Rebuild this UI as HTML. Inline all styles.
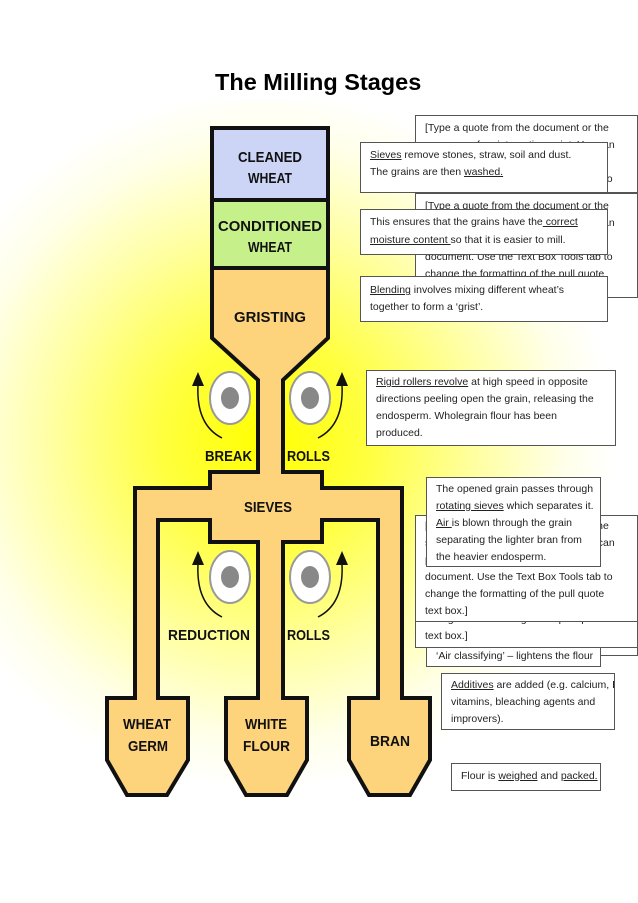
<!DOCTYPE html>
<html><head><meta charset="utf-8"><style>
body{margin:0;width:638px;height:903px;background:#fff;position:relative;overflow:hidden;font-family:"Liberation Sans",sans-serif}
.t{position:absolute;left:215px;top:69px;font-size:23.5px;font-weight:bold;color:#000}
.b{position:absolute;background:#fff;border:1px solid #555;font-size:10.5px;line-height:17px;color:#222;padding:4px 9px;box-sizing:border-box;overflow:hidden;white-space:nowrap}
u{text-decoration:underline}
svg{position:absolute;left:0;top:0}
.lbl{font-family:"Liberation Sans",sans-serif;font-weight:900;font-size:15px;fill:#111;text-anchor:start}
</style></head><body>
<svg width="638" height="903">
<defs><radialGradient id="g" cx="265" cy="440" r="350" gradientUnits="userSpaceOnUse">
<stop offset="0" stop-color="#ffff00"/><stop offset="0.3" stop-color="#ffff40"/><stop offset="0.6" stop-color="#ffffa0"/><stop offset="0.85" stop-color="#ffffe8"/><stop offset="1" stop-color="#fff"/></radialGradient></defs>
<rect x="0" y="100" width="638" height="740" fill="url(#g)"/>
<g stroke="#111" stroke-width="4" stroke-linejoin="miter">
<rect x="212" y="128" width="116" height="72" fill="#cdd5f7"/>
<rect x="212" y="200" width="116" height="68" fill="#c6f08a"/>
<path d="M212 268 H328 V338 L283 380 V472 H322 V488 H402 V698 H430 V760 L410 795 H369 L349 760 V698 H378 V520 H322 V542 L283 542 V698 H307 V760 L287 795 H246 L226 760 V698 H258 V542 H210 V520 H158 V698 H188 V760 L167 795 H127 L107 760 V698 H135 V488 H210 V472 H258 V380 L212 338 Z" fill="#fdd37c"/>
</g>
<g>
<ellipse cx="230" cy="398" rx="20" ry="26" fill="#fff" stroke="#999" stroke-width="2"/><ellipse cx="230" cy="398" rx="9" ry="11" fill="#888"/>
<ellipse cx="310" cy="398" rx="20" ry="26" fill="#fff" stroke="#999" stroke-width="2"/><ellipse cx="310" cy="398" rx="9" ry="11" fill="#888"/>
<ellipse cx="230" cy="577" rx="20" ry="26" fill="#fff" stroke="#999" stroke-width="2"/><ellipse cx="230" cy="577" rx="9" ry="11" fill="#888"/>
<ellipse cx="310" cy="577" rx="20" ry="26" fill="#fff" stroke="#999" stroke-width="2"/><ellipse cx="310" cy="577" rx="9" ry="11" fill="#888"/>
<g fill="none" stroke="#111" stroke-width="1.5">
<path d="M222 438 Q196 425 198 385"/><path d="M318 438 Q344 425 342 385"/>
<path d="M222 617 Q196 604 198 564"/><path d="M318 617 Q344 604 342 564"/></g>
<g fill="#111"><path d="M192 386 L198 372 L204 386Z"/><path d="M336 386 L342 372 L348 386Z"/>
<path d="M192 565 L198 551 L204 565Z"/><path d="M336 565 L342 551 L348 565Z"/></g>
</g>
<g class="lbl">
<text class="lbl" x="238" y="162" textLength="64" lengthAdjust="spacingAndGlyphs">CLEANED</text><text class="lbl" x="248" y="183" textLength="44" lengthAdjust="spacingAndGlyphs">WHEAT</text>
<text class="lbl" x="218" y="231" textLength="104" lengthAdjust="spacingAndGlyphs">CONDITIONED</text><text class="lbl" x="248" y="252" textLength="44" lengthAdjust="spacingAndGlyphs">WHEAT</text>
<text class="lbl" x="234" y="322" textLength="72" lengthAdjust="spacingAndGlyphs">GRISTING</text>
<text class="lbl" x="205" y="461" textLength="47" lengthAdjust="spacingAndGlyphs">BREAK</text><text class="lbl" x="287" y="461" textLength="43" lengthAdjust="spacingAndGlyphs">ROLLS</text>
<text class="lbl" x="244" y="512" textLength="48" lengthAdjust="spacingAndGlyphs">SIEVES</text>
<text class="lbl" x="168" y="640" textLength="82" lengthAdjust="spacingAndGlyphs">REDUCTION</text><text class="lbl" x="287" y="640" textLength="43" lengthAdjust="spacingAndGlyphs">ROLLS</text>
<text class="lbl" x="123" y="729" textLength="48" lengthAdjust="spacingAndGlyphs">WHEAT</text><text class="lbl" x="128" y="751" textLength="40" lengthAdjust="spacingAndGlyphs">GERM</text>
<text class="lbl" x="245" y="729" textLength="42" lengthAdjust="spacingAndGlyphs">WHITE</text><text class="lbl" x="243" y="751" textLength="47" lengthAdjust="spacingAndGlyphs">FLOUR</text>
<text class="lbl" x="370" y="746" textLength="40" lengthAdjust="spacingAndGlyphs">BRAN</text>
</g>
</svg>
<div class="t">The Milling Stages</div>
<div class="b" style="left:415px;top:115px;width:223px;height:78px">[Type a quote from the document or the<br>summary of an interesting point. You can<br>position the text box anywhere in the<br>document. Use the Text Box Tools tab to</div>
<div class="b" style="left:415px;top:193px;width:223px;height:105px">[Type a quote from the document or the<br>summary of an interesting point. You can<br>position the text box anywhere in the<br>document. Use the Text Box Tools tab to<br>change the formatting of the pull quote<br>text box.]</div>
<div class="b" style="left:360px;top:142px;width:248px;height:51px"><u>Sieves</u> remove stones, straw, soil and dust.<br>The grains are then <u>washed.</u></div>
<div class="b" style="left:360px;top:209px;width:248px;height:46px;line-height:18px;padding-top:3px">This ensures that the grains have the<u> correct <br>moisture content </u>so that it is easier to mill.</div>
<div class="b" style="left:360px;top:276px;width:248px;height:46px;padding-top:5px"><u>Blending</u> involves mixing different wheat’s<br>together to form a ‘grist’.</div>
<div class="b" style="left:366px;top:370px;width:250px;height:76px;padding-top:3px"><u>Rigid rollers revolve</u> at high speed in opposite<br>directions peeling open the grain, releasing the<br>endosperm. Wholegrain flour has been<br>produced.</div>
<div class="b" style="left:426px;top:640px;width:212px;height:16px;padding:0"></div>
<div class="b" style="left:415px;top:540px;width:223px;height:108px;padding-top:2px">[Type a quote from the document or the<br>summary of an interesting point. You can<br>position the text box anywhere in the<br>document. Use the Text Box Tools tab to<br>change the formatting of the pull quote<br>text box.]</div>
<div class="b" style="left:415px;top:515px;width:223px;height:107px;padding-top:2px">[Type a quote from the document or the<br>summary of an interesting point. You can<br>position the text box anywhere in the<br>document. Use the Text Box Tools tab to<br>change the formatting of the pull quote<br>text box.]</div>
<div class="b" style="left:426px;top:477px;width:175px;height:90px;padding-top:3px">The opened grain passes through<br><u>rotating sieves</u> which separates it.<br><u>Air </u>is blown through the grain<br>separating the lighter bran from<br>the heavier endosperm.</div>
<div class="b" style="left:426px;top:647px;width:175px;height:20px;padding-top:0">‘Air classifying’ – lightens the flour</div>
<div class="b" style="left:441px;top:673px;width:174px;height:57px;padding-top:3px"><u>Additives</u> are added (e.g. calcium, B<br>vitamins, bleaching agents and<br>improvers).</div>
<div class="b" style="left:451px;top:763px;width:150px;height:28px;padding-top:4px">Flour is <u>weighed</u> and <u>packed.</u></div>
</body></html>
